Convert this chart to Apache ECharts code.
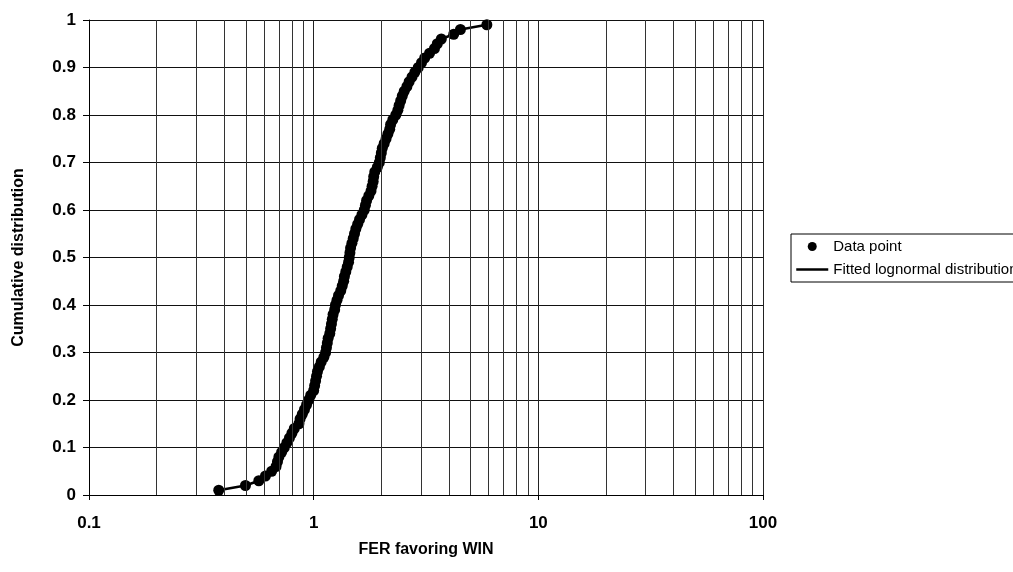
<!DOCTYPE html>
<html>
<head>
<meta charset="utf-8">
<script src="https://cdn.jsdelivr.net/npm/echarts@6/dist/echarts.min.js"></script>
<style>
html,body{margin:0;padding:0;background:#fff;}
#chart{width:1013px;height:572px;}
</style>
</head>
<body>
<div id="chart"></div>
<script>
// Cumulative distribution values (y) and FER values (x)
const cumY = [0.01,0.02,0.03,0.04,0.05,0.06,0.07,0.08,0.09,0.10,
  0.11,0.12,0.13,0.14,0.15,0.16,0.17,0.18,0.19,0.20,
  0.21,0.22,0.23,0.24,0.25,0.26,0.27,0.28,0.29,0.30,
  0.31,0.32,0.33,0.34,0.35,0.36,0.37,0.38,0.39,0.40,
  0.41,0.42,0.43,0.44,0.45,0.46,0.47,0.48,0.49,0.50,
  0.51,0.52,0.53,0.54,0.55,0.56,0.57,0.58,0.59,0.60,
  0.61,0.62,0.63,0.64,0.65,0.66,0.67,0.68,0.69,0.70,
  0.71,0.72,0.73,0.74,0.75,0.76,0.77,0.78,0.79,0.80,
  0.81,0.82,0.83,0.84,0.85,0.86,0.87,0.88,0.89,0.90,
  0.91,0.92,0.93,0.94,0.95,0.96,0.97,0.98,0.99];
const ferX = [0.378,0.497,0.57,0.61,0.65,0.68,0.69,0.70,0.72,0.74,
  0.76,0.78,0.80,0.82,0.86,0.87,0.89,0.91,0.93,0.95,
  0.97,1.00,1.01,1.02,1.03,1.04,1.06,1.08,1.11,1.13,
  1.14,1.15,1.16,1.18,1.19,1.20,1.21,1.22,1.24,1.25,
  1.27,1.29,1.32,1.34,1.36,1.37,1.39,1.41,1.43,1.44,
  1.45,1.46,1.48,1.50,1.52,1.54,1.57,1.60,1.64,1.68,
  1.70,1.72,1.76,1.80,1.82,1.84,1.85,1.87,1.92,1.96,
  1.98,2.00,2.02,2.06,2.10,2.14,2.18,2.20,2.25,2.32,
  2.37,2.40,2.44,2.48,2.53,2.60,2.66,2.74,2.82,2.92,
  3.02,3.12,3.28,3.45,3.55,3.70,4.20,4.50,5.90];
// Minor vertical grid positions (log axis)
const minorX = [0.2,0.3,0.4,0.5,0.6,0.7,0.8,0.9,2,3,4,5,6,7,8,9,20,30,40,50,60,70,80,90];
const xTicks = [0.1,1,10,100];
const yTicks = [0,0.1,0.2,0.3,0.4,0.5,0.6,0.7,0.8,0.9,1];

const FONT = "'Liberation Sans', Arial, sans-serif";
const points = ferX.map((x,i)=>[x,cumY[i]]);

const chart = echarts.init(document.getElementById('chart'), null, {renderer:'canvas'});
chart.setOption({
  animation:false,
  backgroundColor:'#fff',
  textStyle:{fontFamily:FONT},
  grid:{left:89,right:250,top:20,bottom:77,containLabel:false,show:false},
  legend:{
    orient:'vertical', left:791, top:234,
    itemWidth:32, itemHeight:9, itemGap:8,
    padding:[5,5,5,4],
    borderColor:'#000', borderWidth:1,
    textStyle:{fontFamily:FONT,fontSize:15,color:'#000'},
    data:[{name:'Data point',icon:'circle'},
          {name:'Fitted lognormal distribution',itemStyle:{opacity:0},lineStyle:{color:'#000',width:2.5}}]
  },
  xAxis:{
    type:'log', logBase:10, min:xTicks[0], max:xTicks[xTicks.length-1],
    name:'FER favoring WIN', nameLocation:'middle', nameGap:47,
    nameTextStyle:{fontFamily:FONT,fontSize:16,fontWeight:'bold',color:'#000'},
    axisLine:{show:true,onZero:false,lineStyle:{color:'#000',width:1}},
    axisTick:{show:true,inside:false,length:5,lineStyle:{color:'#000'}},
    axisLabel:{margin:20,fontFamily:FONT,fontSize:17,fontWeight:'bold',color:'#000',
      formatter:v=>String(v)},
    splitLine:{show:true,lineStyle:{color:'#222',width:1}}
  },
  yAxis:{
    type:'value', min:yTicks[0], max:yTicks[yTicks.length-1], interval:0.1,
    name:'Cumulative distribution', nameLocation:'middle', nameGap:62,
    nameTextStyle:{fontFamily:FONT,fontSize:16,fontWeight:'bold',color:'#000'},
    axisLine:{show:true,lineStyle:{color:'#000',width:1}},
    axisTick:{show:true,inside:false,length:6,lineStyle:{color:'#000'}},
    axisLabel:{margin:13,fontFamily:FONT,fontSize:17,fontWeight:'bold',color:'#000',
      formatter:v=>String(Math.round(v*10)/10)},
    splitLine:{show:true,lineStyle:{color:'#111',width:1}}
  },
  series:[
    {
      name:'minor grid', type:'line', data:[], silent:true,
      markLine:{silent:true,symbol:['none','none'],label:{show:false},
        lineStyle:{color:'#333',width:1,type:'solid'},
        emphasis:{disabled:true},
        data:minorX.map(v=>({xAxis:v}))}
    },
    {
      name:'Fitted lognormal distribution', type:'line', data:points,
      symbol:'none', lineStyle:{color:'#000',width:2.5}, itemStyle:{color:'#000'}, z:3
    },
    {
      name:'Data point', type:'scatter', data:points,
      symbol:'circle', symbolSize:11, itemStyle:{color:'#000',opacity:1}, z:4
    }
  ]
});
</script>
</body>
</html>
